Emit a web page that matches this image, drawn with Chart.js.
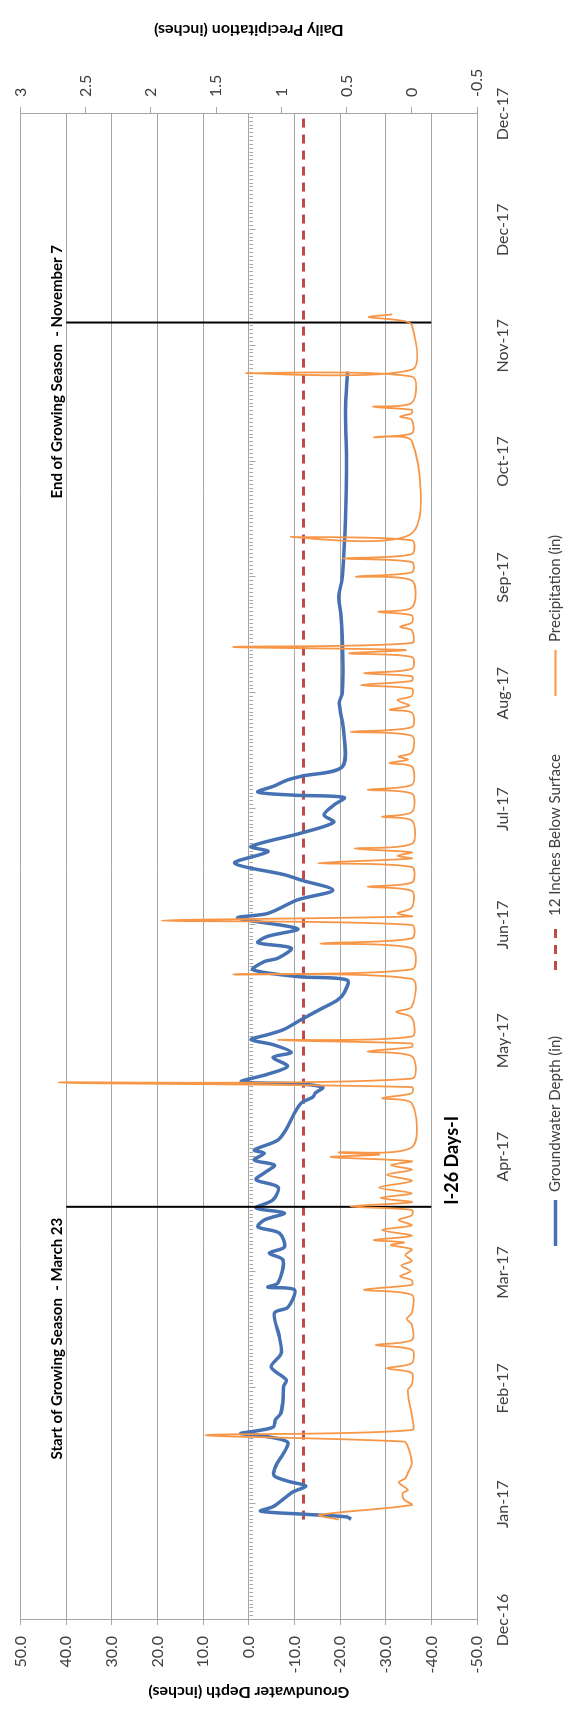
<!DOCTYPE html>
<html>
<head>
<meta charset="utf-8">
<script src="https://cdn.jsdelivr.net/npm/chart.js@4.4.1/dist/chart.umd.min.js"></script>
<style>
  html, body { margin: 0; padding: 0; background: #fff; overflow: hidden; }
  /* The chart is laid out landscape and turned a quarter turn counter-clockwise */
  #frame {
    position: absolute; left: 0; top: 0;
    width: 1712px; height: 572px;
    transform-origin: 0 0;
    transform: translateY(1712px) rotate(-90deg);
  }
  canvas { display: block; }
</style>
</head>
<body>
<div id="frame"><canvas id="chart" width="1712" height="572"></canvas></div>
<script>
// Day offsets are counted from 6 Dec 2016; axis runs 390 days with a tick every 30 days.
const dateTickLabels = ['Dec-16','Jan-17','Feb-17','Mar-17','Apr-17','May-17','Jun-17',
                        'Jul-17','Aug-17','Sep-17','Oct-17','Nov-17','Dec-17','Dec-17'];

// Groundwater depth (inches relative to surface)
const gwDay = [26.1,26.7,27.4,28.2,29.4,31.9,33.2,34.7,35.8,37.1,38.0,40.6,42.7,45.8,46.8,47.9,48.3,49.0,50.0,51.8,
  53.5,57.0,60.4,62.2,65.5,69.1,73.3,79.5,81.0,85.5,86.2,87.3,93.2,95.0,96.6,100.2,101.8,103.6,105.4,106.7,
  108.8,112.1,114.0,115.8,117.8,119.1,120.9,121.7,124.3,127.7,131.3,133.9,135.4,136.5,137.9,138.8,139.4,141.3,143.4,145.7,
  147.0,149.0,150.3,151.6,153.0,155.5,158.0,160.6,162.4,165.7,166.6,168.4,170.5,171.4,174.0,175.4,177.0,179.0,181.8,183.0,
  186.5,189.0,191.6,193.0,196.0,199.0,200.3,203.8,206.6,208.5,211.0,213.0,213.6,214.4,216.0,217.5,218.5,221.0,230,237.5,
  240,250,260,265,270,280,290,301,313,323.3];
const gwDepth = [-22.4,-21.5,-12,-2.6,-5.4,-8.2,-9.7,-12.5,-9,-5.8,-5.4,-6.2,-7.4,-8.6,-7,-1.8,1.8,-1.8,-5.4,-5.8,
  -7,-7.5,-7.6,-8.2,-4.9,-7.1,-6.7,-5.6,-8.6,-10,-4.2,-6.4,-7.5,-4.5,-7.8,-6.7,-2,-3.4,-7.8,-1.6,
  -5.3,-6.4,-1.6,-3.4,-5.6,-1.2,-3.4,-1.2,-6.4,-8.5,-10,-11.5,-14,-14.6,-16.2,-11.5,1.6,-4,-8.5,-5.3,
  -9.3,-5.3,-0.5,-4.2,-7.8,-11.5,-15.4,-19.5,-20.9,-21.6,-11,-0.9,-3.4,-6.4,-9.3,-2,-4,-10.7,2.4,-4.2,
  -10.7,-18.4,-11.5,-7.8,3.1,-4.2,-0.5,-11.5,-18.6,-16.5,-18.6,-20.9,-10,-2,-5.6,-8.4,-11.5,-20.5,-20.8,-19.8,
  -20.5,-20.6,-20.2,-19.7,-20.5,-21,-21.3,-21.4,-21.2,-21.6];

// Daily precipitation (inches)
const rainDay = [26.0,27.2,29.8,31.2,32.8,33.7,35.6,36.7,38.1,40.6,44.9,46.2,47.9,49.2,53,56.5,59.6,61,64,65.2,
  66.5,70,71.2,72.5,76.5,78,79.5,84.2,85.5,86.8,88,89,90.3,91.8,93,94.5,96,97.1,97.8,98.4,
  99.5,101,102.2,103.6,104.8,106.2,107.1,108.2,109.3,110.5,112,113.7,115.3,116.6,117.8,118.8,119.9,120.5,121.1,122.4,
  133.8,135.1,136.4,138,139.2,140.2,146,147.2,148.4,149.3,150.2,151.1,156,157.5,158.8,166,167.2,168.5,174,175.2,
  176.5,180,181.1,182.2,183,184.5,188.8,189.9,191,195,196,197.2,197.9,198.8,199.8,201,207,208,209.2,214,
  215,216.3,221,221.9,222.8,223.6,224.6,229,230,231.2,235,235.7,236.8,238.2,239.3,241.2,242.1,243.2,244.4,245.2,
  246.3,249.4,250.3,251.2,252,253,256.3,257.2,258.3,260.2,261.1,262.2,269.2,270.2,271.3,274,274.9,276,279.6,280.5,
  281.4,305.3,306.3,307.3,310.8,311.6,312.5,313.4,314.2,315.2,322,322.9,323.8,335.4,336.6,337.4,338.1];
const rainInches = [0.56,0.71,0.0,0.06,0.07,0.03,0.10,0.05,0.03,0.0,0.03,0.06,1.58,0.0,0.0,0.02,0.03,0.0,0.0,0.19,
  0.0,0.0,0.28,0.0,0.0,0.04,0.0,0.0,0.37,0.0,0.0,0.09,0.01,0.08,0.0,0.05,0.0,0.16,0.06,0.29,
  0.0,0.23,0.0,0.10,0.0,0.0,0.47,0.0,0.24,0.0,0.25,0.0,0.19,0.0,0.16,0.0,0.62,0.25,0.56,0.0,
  0.0,0.23,0.0,0.0,2.71,0.0,0.0,0.34,0.0,0.0,1.03,0.0,0.0,0.12,0.0,0.0,1.37,0.0,0.0,0.70,
  0.0,0.0,1.92,0.0,0.11,0.0,0.0,0.34,0.0,0.0,0.72,0.0,0.11,0.0,0.44,0.0,0.0,0.23,0.0,0.0,
  0.34,0.0,0.0,0.17,0.03,0.10,0.0,0.0,0.47,0.0,0.0,0.17,0.02,0.11,0.0,0.0,0.39,0.0,0.0,0.37,
  0.0,0.0,0.48,0.05,1.37,0.0,0.0,0.09,0.0,0.0,0.26,0.0,0.0,0.43,0.0,0.0,0.53,0.0,0.0,0.93,
  0.0,0.0,0.29,0.0,0.0,0.09,0.0,0.0,0.30,0.0,0.0,1.27,0.0,0.0,0.10,0.33,0.15];

// Reference depth line and growing-season markers
const thresholdDepth = -12;
const thresholdDays = [26, 390];
const seasonStartDay = 107;   // 23 Mar 2017
const seasonEndDay = 336;     // 7 Nov 2017
const markerDepths = [-40, 40];

const seriesNames = ['Groundwater Depth (in)', '12 Inches Below Surface', 'Precipitation (in)'];

const BLUE = '#4672b4', RED = '#be4b48', ORANGE = '#f79646', GRID = '#a6a6a6', TEXT = '#404040';
Chart.defaults.font.family = 'Lato, "Open Sans", sans-serif';

const pairs = (xs, ys) => xs.map((x, i) => ({ x, y: ys[i] }));

const decorations = {
  id: 'decorations',
  beforeDatasetsDraw(chart) {
    // horizontal axis crossing at zero depth, with daily minor ticks
    const { ctx, scales } = chart;
    const x = scales.x, y = scales.y;
    const y0 = Math.round(y.getPixelForValue(0)) + 0.5;
    ctx.save();
    ctx.strokeStyle = GRID;
    ctx.lineWidth = 1;
    ctx.beginPath();
    for (let d = x.min; d <= x.max; d++) {
      const px = Math.round(x.getPixelForValue(d)) + 0.5;
      const len = d % 30 === 0 ? 6 : 3.5;
      ctx.moveTo(px, y0);
      ctx.lineTo(px, y0 + len);
    }
    ctx.stroke();
    ctx.restore();
  },
  afterDraw(chart) {
    const { ctx, chartArea, scales } = chart;
    const x = scales.x, y = scales.y;
    const cy = (chartArea.top + chartArea.bottom) / 2;
    const cx = (chartArea.left + chartArea.right) / 2;
    ctx.save();

    // axis titles (both read bottom-to-top)
    ctx.fillStyle = '#000';
    ctx.font = 'bold 16px Lato';
    ctx.textAlign = 'center';
    ctx.textBaseline = 'middle';
    [[20, 'Groundwater Depth (inches)'], [chart.width - 30, 'Daily Precipitation (inches)']].forEach(([tx, t]) => {
      ctx.save();
      ctx.translate(tx, cy);
      ctx.rotate(-Math.PI / 2);
      ctx.fillText(t, 0, 0);
      ctx.restore();
    });

    // season annotations
    const xs = x.getPixelForValue(seasonStartDay);
    const xe = x.getPixelForValue(seasonEndDay);
    const ty = y.getPixelForValue(42);
    ctx.font = 'bold 15px Lato';
    ctx.textAlign = 'right';
    ctx.fillText('Start of Growing Season  - March 23', xs - 11, ty);
    ctx.textAlign = 'left';
    ctx.fillText('End of Growing Season  - November 7', xe - 176, ty);
    ctx.font = 'bold 18px Lato';
    ctx.fillText('I-26 Days-I', xs + 2, y.getPixelForValue(-44.5));

    // legend
    const ly = 555.5;
    const items = [
      { off: -379, color: BLUE, width: 3.5, dash: [] },
      { off: -103, color: RED, width: 3, dash: [9, 7] },
      { off: 171, color: ORANGE, width: 1.8, dash: [] }
    ];
    ctx.font = '15px Lato';
    ctx.textAlign = 'left';
    ctx.fillStyle = TEXT;
    items.forEach((it, i) => {
      const sx = cx + it.off;
      ctx.beginPath();
      ctx.strokeStyle = it.color;
      ctx.lineWidth = it.width;
      ctx.setLineDash(it.dash);
      ctx.moveTo(sx, ly);
      ctx.lineTo(sx + 46, ly);
      ctx.stroke();
      ctx.setLineDash([]);
      ctx.fillText(seriesNames[i], sx + 54, ly);
    });
    ctx.restore();
  }
};

new Chart(document.getElementById('chart'), {
  type: 'line',
  data: {
    datasets: [
      { label: seriesNames[2], data: pairs(rainDay, rainInches), yAxisID: 'y2',
        borderColor: ORANGE, borderWidth: 1.8, tension: 0.3, pointRadius: 0, order: 0 },
      { label: 'season start', data: pairs([seasonStartDay, seasonStartDay], markerDepths), yAxisID: 'y',
        borderColor: '#000', borderWidth: 2, pointRadius: 0, order: 1 },
      { label: 'season end', data: pairs([seasonEndDay, seasonEndDay], markerDepths), yAxisID: 'y',
        borderColor: '#000', borderWidth: 2, pointRadius: 0, order: 1 },
      { label: seriesNames[0], data: pairs(gwDay, gwDepth), yAxisID: 'y',
        borderColor: BLUE, borderWidth: 3.5, tension: 0.3, pointRadius: 0, order: 2 },
      { label: seriesNames[1], data: pairs(thresholdDays, thresholdDays.map(() => thresholdDepth)), yAxisID: 'y',
        borderColor: RED, borderWidth: 3, borderDash: [9, 7], pointRadius: 0, order: 3 }
    ]
  },
  options: {
    responsive: false,
    animation: false,
    devicePixelRatio: 1,
    events: [],
    layout: { padding: { top: 18, left: 0, right: 0, bottom: 0 } },
    plugins: { legend: { display: false }, tooltip: { enabled: false } },
    scales: {
      x: {
        type: 'linear', min: 0, max: 390,
        grid: { display: false, drawTicks: false },
        border: { display: false },
        ticks: {
          stepSize: 30, autoSkip: false, maxRotation: 0, minRotation: 0, padding: 16,
          color: TEXT, font: { size: 16 },
          callback: v => dateTickLabels[Math.round(v / 30)]
        },
        afterFit: s => { s.height = 95; }
      },
      y: {
        position: 'left', min: -50, max: 50,
        grid: { color: GRID, lineWidth: 1, drawTicks: true, tickLength: 5 },
        border: { display: true, color: GRID },
        ticks: { stepSize: 10, padding: 11, color: TEXT, font: { size: 16 }, callback: v => v.toFixed(1) },
        afterFit: s => { s.width = 92; }
      },
      y2: {
        position: 'right', min: -0.5, max: 3,
        grid: { drawOnChartArea: false, color: GRID, drawTicks: true, tickLength: 7 },
        border: { display: true, color: GRID },
        ticks: { stepSize: 0.5, padding: 10, color: TEXT, font: { size: 16 }, callback: v => String(v) },
        afterFit: s => { s.width = 114; }
      }
    }
  },
  plugins: [decorations]
});
</script>
</body>
</html>
